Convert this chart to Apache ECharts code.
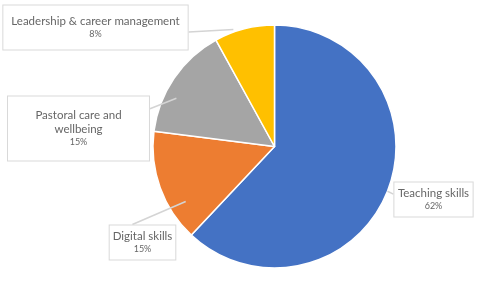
<!DOCTYPE html>
<html>
<head>
<meta charset="utf-8">
<script src="https://cdn.jsdelivr.net/npm/echarts@6/dist/echarts.min.js"></script>
<style>
html,body{margin:0;padding:0;background:#fff;}
#chart{width:500px;height:291px;}
</style>
</head>
<body>
<div id="chart"></div>
<script>
const categories = ['Teaching skills', 'Digital skills', 'Pastoral care and\nwellbeing', 'Leadership & career management'];
const values = [62, 15, 15, 8];
const percentLabels = ['62%', '15%', '15%', '8%'];

const colors = ['#4472C4', '#ED7D31', '#A5A5A5', '#FFC000'];
const pieCenter = [274.5, 146.5];
const pieRadius = 121.5;
// label box layout (centers in px) and padding
const labelCenters = [[433.5, 199.5], [142.5, 242.5], [78.5, 128.5], [95.5, 27.5]];
const labelPadding = [[4, 3], [4, 3], [12, 14], [9, 8]];
// leader line: fraction of radius for the pointer tip, angle shift (deg), box side it attaches to
const tipRadius = [1.0, 0.86, 0.9, 1.02];
const tipAngleShift = [0, -12, -8, -5];
const attachSide = [['left', 0.35], ['top', 0.35], ['right', 0.2], ['right', 0.6]];

const chart = echarts.init(document.getElementById('chart'), null, {renderer: 'canvas'});
const baseData = categories.map((c, i) => ({
  name: c,
  value: values[i],
  itemStyle: {color: colors[i]}
}));
const labelData = categories.map((c, i) => ({
  name: c,
  value: values[i],
  label: {padding: labelPadding[i]}
}));

chart.setOption({
  backgroundColor: '#fff',
  animation: false,
  series: [{
    type: 'pie',
    z: 2,
    center: pieCenter,
    radius: pieRadius,
    startAngle: 90,
    clockwise: true,
    silent: true,
    data: baseData,
    itemStyle: {borderColor: '#fff', borderWidth: 1.5},
    label: {show: false},
    labelLine: {show: false}
  }, {
    type: 'pie',
    z: 3,
    center: pieCenter,
    radius: pieRadius,
    startAngle: 90,
    clockwise: true,
    silent: true,
    data: labelData,
    itemStyle: {color: 'rgba(0,0,0,0)', borderWidth: 0},
    label: {
      show: true,
      position: 'outside',
      align: 'center',
      backgroundColor: '#fff',
      borderColor: '#d9d9d9',
      borderWidth: 1,
      fontFamily: 'Lato',
      color: '#666',
      formatter: p => '{n|' + p.name.split('\n').join('}\n{n|') + '}\n{p|' + percentLabels[p.dataIndex] + '}',
      rich: {
        n: {fontFamily: 'Lato', fontSize: 11.5, lineHeight: 14, color: '#666', align: 'center'},
        p: {fontFamily: 'Lato', fontSize: 9, lineHeight: 12, color: '#666', align: 'center'}
      }
    },
    labelLine: {show: true, lineStyle: {color: '#d4d4d4', width: 1.5}, length: 10, length2: 10},
    labelLayout: function (params) {
      const i = params.dataIndex;
      const c = labelCenters[i];
      const r = params.labelRect;
      const hw = r.width / 2, hh = r.height / 2;
      const p0 = params.labelLinePoints[0];
      const dx = p0[0] - pieCenter[0], dy = p0[1] - pieCenter[1];
      const a = Math.atan2(dy, dx) + tipAngleShift[i] * Math.PI / 180;
      const rad = Math.sqrt(dx * dx + dy * dy) * tipRadius[i];
      const tip = [pieCenter[0] + rad * Math.cos(a), pieCenter[1] + rad * Math.sin(a)];
      const side = attachSide[i][0], f = attachSide[i][1];
      let end;
      if (side === 'left') end = [c[0] - hw, c[1] - hh + f * 2 * hh];
      else if (side === 'right') end = [c[0] + hw, c[1] - hh + f * 2 * hh];
      else end = [c[0] - hw + f * 2 * hw, c[1] - hh];
      return {x: c[0], y: c[1], align: 'center', verticalAlign: 'middle', labelLinePoints: [tip, end, end]};
    }
  }]
});
</script>
</body>
</html>
